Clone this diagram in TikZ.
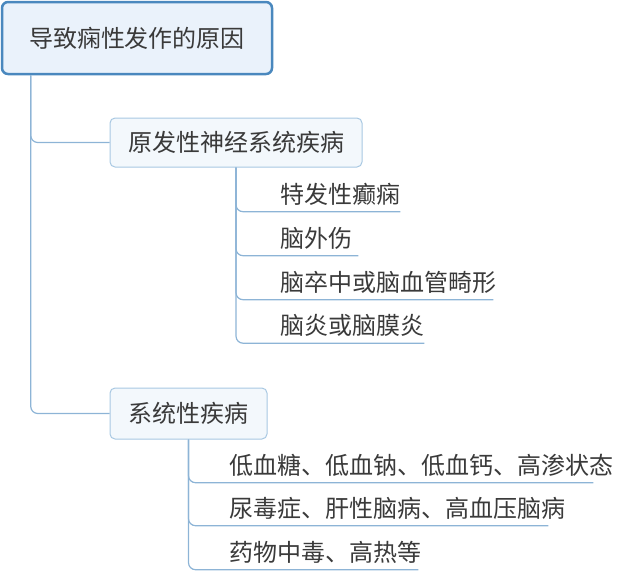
\documentclass[tikz,border=0pt]{standalone}
\usepackage{fontspec}
\newfontfamily\cjk{Noto Sans CJK SC}
\definecolor{rootborder}{HTML}{4A88BE}
\definecolor{rootfill}{HTML}{EAF2FB}
\definecolor{subborder}{HTML}{A8C8E2}
\definecolor{subfill}{HTML}{F3F8FC}
\definecolor{linkc}{HTML}{8DB4D6}
\definecolor{txt}{HTML}{3A3A3A}
\begin{document}
\begin{tikzpicture}[x=1pt,y=-1pt,
  basefont/.style={font=\cjk\fontsize{24}{28}\selectfont, text=txt},
  rootbox/.style={basefont, draw=rootborder, line width=2.5pt, fill=rootfill,
    rounded corners=6pt, minimum width=270pt, minimum height=72pt, inner sep=0pt},
  subbox/.style={basefont, draw=subborder, line width=1pt, fill=subfill,
    rounded corners=5pt, inner sep=0pt},
  leaf/.style={basefont, anchor=west, inner xsep=0pt, inner ysep=0pt, minimum height=35pt},
  link/.style={draw=linkc, line width=1.2pt, rounded corners=7pt}]
\useasboundingbox (0,0) rectangle (640,582);
\node[rootbox] (root) at (137,38) {导致痫性发作的原因};
\node[subbox, minimum width=252pt, minimum height=49pt] (n1) at (236,142.5) {原发性神经系统疾病};
\node[subbox, minimum width=157pt, minimum height=51pt] (n2) at (188.5,413.5) {系统性疾病};
\draw[link] ([xshift=30pt]root.south west) |- (n1.west);
\draw[link] ([xshift=30pt]root.south west) |- (n2.west);
\node[leaf] (a1) at (280,194) {特发性癫痫};
\node[leaf] (a2) at (280,238) {脑外伤};
\node[leaf] (a3) at (280,282) {脑卒中或脑血管畸形};
\node[leaf] (a4) at (280,325.5) {脑炎或脑膜炎};
\draw[link] (n1.south) |- (a1.south east);
\draw[link] (n1.south) |- ([xshift=6pt]a2.south east);
\draw[link] (n1.south) |- ([xshift=-3pt]a3.south east);
\draw[link] (n1.south) |- (a4.south east);
\node[leaf] (b1) at (229,465) {低血糖、低血钠、低血钙、高渗状态};
\node[leaf] (b2) at (229,508) {尿毒症、肝性脑病、高血压脑病};
\node[leaf] (b3) at (229,552) {药物中毒、高热等};
\draw[link] (n2.south) |- ([xshift=-20pt]b1.south east);
\draw[link] (n2.south) |- ([xshift=-17pt]b2.south east);
\draw[link] (n2.south) |- ([xshift=-3pt]b3.south east);
\end{tikzpicture}
\end{document}
